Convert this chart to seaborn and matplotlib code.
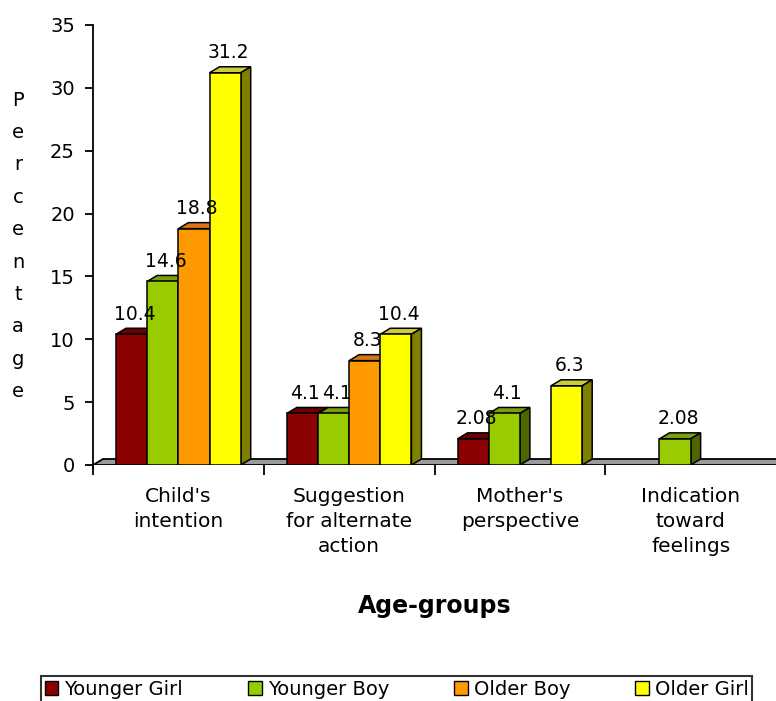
import numpy as np
import pandas as pd
import matplotlib
matplotlib.use("Agg")
import matplotlib.pyplot as plt
import seaborn as sns
from matplotlib.patches import Polygon, Patch
from matplotlib.colors import to_rgba

# ---- data -------------------------------------------------------------
categories = ["Child's\nintention", "Suggestion\nfor alternate\naction",
              "Mother's\nperspective", "Indication\ntoward\nfeelings"]
groups = ["Younger Girl", "Younger Boy", "Older Boy", "Older Girl"]
younger_girl = [10.4, 4.1, 2.08, 0]
younger_boy = [14.6, 4.1, 4.1, 2.08]
older_boy = [18.8, 8.3, 0, 0]
older_girl = [31.2, 10.4, 6.3, 0]
y_ticks = [0, 5, 10, 15, 20, 25, 30, 35]

# ---- colours for the three visible faces of each column ----------------
front_colors = ["#8b0000", "#99cc00", "#ff9900", "#ffff00"]
top_colors = ["#6a0000", "#7a9f10", "#d9741a", "#cccc3a"]
side_colors = ["#4a0000", "#4d6600", "#a65c00", "#808000"]

rows = []
for g, vals in zip(groups, [younger_girl, younger_boy, older_boy, older_girl]):
    for c, v in zip(categories, vals):
        rows.append({"category": c, "group": g, "value": v})
df = pd.DataFrame(rows)
drawn = df[df["value"] > 0]

sns.set_theme(style="white")
plt.rcParams["font.family"] = ["DejaVu Sans"]
plt.rcParams["text.color"] = "black"

W, H = 776, 701
fig = plt.figure(figsize=(W / 100, H / 100), dpi=100)
ax = fig.add_axes([93 / W, 1 - 465 / H, (W - 93) / W, 440 / H])

ax.set_xlim(-0.5, 3.5)
ax.set_ylim(0, 35)

# depth of the pseudo-3D extrusion, in data units
px_x = 4.0 / (W - 93)
px_y = 35.0 / 440
dx = 10 * px_x
dy = 6 * px_y

# floor plane
floor = Polygon([(-0.5, 0), (3.6, 0), (3.6 + dx, dy), (-0.5 + dx, dy)],
                closed=True, facecolor="#9a9a9a", edgecolor="black",
                linewidth=1.3, zorder=1)
ax.add_patch(floor)

sns.barplot(data=drawn, x="category", y="value", hue="group",
            order=categories, hue_order=groups, palette=front_colors,
            width=0.73, saturation=1, edgecolor="black", linewidth=1.1,
            legend=False, errorbar=None, ax=ax, zorder=3)

front_rgba = [to_rgba(c) for c in front_colors]
for p in list(ax.patches):
    if p is floor:
        continue
    fc = p.get_facecolor()
    idx = int(np.argmin([np.sum(np.abs(np.array(fc) - np.array(c))) for c in front_rgba]))
    x0, w, h = p.get_x(), p.get_width(), p.get_height()
    x1 = x0 + w
    top = Polygon([(x0, h), (x1, h), (x1 + dx, h + dy), (x0 + dx, h + dy)],
                  closed=True, facecolor=top_colors[idx], edgecolor="black",
                  linewidth=1.1, zorder=2)
    side = Polygon([(x1, 0), (x1 + dx, dy), (x1 + dx, h + dy), (x1, h)],
                   closed=True, facecolor=side_colors[idx], edgecolor="black",
                   linewidth=1.1, zorder=2)
    ax.add_patch(top)
    ax.add_patch(side)
    ax.annotate(f"{h:g}", xy=(x0 + w / 2, h), xytext=(3, 20),
                textcoords="offset pixels", ha="center", va="center",
                fontsize=13.5, color="black", zorder=5)

# axes styling
for s in ["top", "right", "bottom"]:
    ax.spines[s].set_visible(False)
ax.spines["left"].set_color("black")
ax.spines["left"].set_linewidth(1.3)
ax.spines["left"].set_bounds(-0.2, 35)

ax.set_yticks(y_ticks)
ax.set_yticklabels([str(t) for t in y_ticks])
ax.tick_params(axis="y", direction="out", length=6, width=1.3, pad=7,
               labelsize=14, colors="black", left=True)

ax.set_xticks(range(len(categories)))
ax.set_xticklabels(categories)
ax.set_xticks([-0.5, 0.5, 1.5, 2.5], minor=True)
ax.tick_params(axis="x", which="major", length=0, pad=16, labelsize=14.5,
               colors="black")
ax.tick_params(axis="x", which="minor", direction="out", length=7, width=1.3,
               colors="black", bottom=True)
for t in ax.get_xticklabels():
    t.set_linespacing(1.4)
    t.set_verticalalignment("top")

ax.set_xlabel("")
ax.set_ylabel("")
ax.grid(False)

# vertical stacked axis title
for i, ch in enumerate("Percentage"):
    fig.text(18 / W, 1 - (100 + i * 32.4) / H, ch, ha="center", va="center",
             fontsize=14, color="black")

fig.text(435 / W, 1 - 606 / H, "Age-groups", ha="center", va="center",
         fontsize=17, fontweight="bold", color="black")

handles = [Patch(facecolor=c, edgecolor="black", linewidth=1.0) for c in front_colors]
leg = fig.legend(handles, groups, ncol=4, loc="upper left",
                 bbox_to_anchor=(41 / W, 1 - 676 / H), borderaxespad=0,
                 frameon=True, fancybox=False, edgecolor="black",
                 fontsize=14, handlelength=0.7, handleheight=0.7,
                 handletextpad=0.3, columnspacing=3.35, borderpad=0.2,
                 labelcolor="black")
leg.get_frame().set_linewidth(1.5)

fig.savefig("out.png", dpi=100, facecolor="white")
